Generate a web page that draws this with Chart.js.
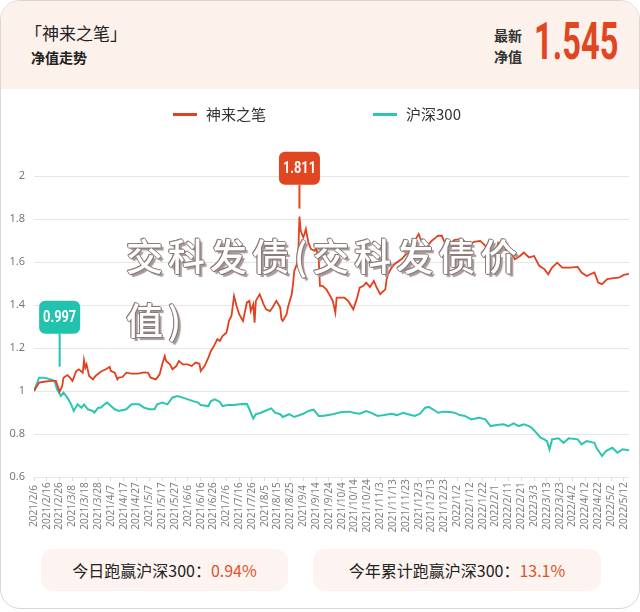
<!DOCTYPE html>
<html>
<head>
<meta charset="utf-8">
<script src="https://cdn.jsdelivr.net/npm/chart.js@4.4.0/dist/chart.umd.min.js"></script>
<style>
body { margin: 0; width: 640px; height: 612px; background: #fff; overflow: hidden;
  font-family: "Noto Sans CJK SC", "Noto Sans", sans-serif; }
#card { position: absolute; left: 0; top: 0; width: 638px; height: 607px; border: 1px solid #d8d8d8;
  border-radius: 20px; overflow: hidden; background: #fff; }
#head { position: absolute; left: 0; top: 0; width: 100%; height: 88px; background: #fdf1ec; }
#title { position: absolute; left: 24px; top: 19px; font-size: 17px; color: #222; }
#sub { position: absolute; left: 30px; top: 46px; font-size: 14px; font-weight: bold; color: #222; }
.small { position: absolute; left: 493px; font-size: 14px; font-weight: bold; color: #333; line-height: 16px; }
#latest { position: absolute; left: 533px; top: 13px; font-family: Roboto, sans-serif; font-weight: bold;
  font-size: 51px; color: #e0461f; transform: scaleX(0.64); transform-origin: left top; line-height: 56px; }
#wrap { position: absolute; left: 0; top: 95px; width: 640px; height: 450px; }
#legend { position: absolute; left: 0; top: 103px; width: 640px; height: 22px; }
.item { position: absolute; top: 0; font-size: 15px; color: #333; line-height: 20px; }
.item i { position: absolute; left: 0; top: 9px; width: 24px; height: 3px; }
.item span { position: absolute; left: 33px; white-space: nowrap; }
#mark { position: absolute; left: 125px; top: 222px; width: 420px; font-size: 37px; font-weight: 500;
  letter-spacing: 5px; line-height: 64px; color: #fff; pointer-events: none;
  text-shadow: 1px 0 #8c7c7c, -1px 0 #8c7c7c, 0 1px #8c7c7c, 0 -1px #8c7c7c, 1px 1px #8c7c7c,
    -1px -1px #8c7c7c, 3px 3px 1px #a89999; }
.box { position: absolute; top: 548px; height: 42px; background: #fdf3f0; border-radius: 12px;
  font-size: 16px; color: #222; text-align: center; line-height: 42px; }
.box b { font-weight: normal; color: #e0522a; }
</style>
</head>
<body>
<div id="card">
  <div id="head">
    <div id="title">「神来之笔」</div>
    <div id="sub">净值走势</div>
    <div class="small" style="top:26px">最新</div>
    <div class="small" style="top:47px">净值</div>
    <div id="latest"></div>
  </div>
  <div id="wrap"><canvas id="navChart"></canvas></div>
  <div id="legend"></div>
  <div id="mark">交科发债(交科发债价值)</div>
  <div class="box" style="left:40px;width:247px">今日跑赢沪深300：<b>0.94%</b></div>
  <div class="box" style="left:312px;width:288px">今年累计跑赢沪深300：<b>13.1%</b></div>
</div>
<script>
// x axis labels, one every 10 days from 2021/2/6
const tickLabels = ['2021/2/6', '2021/2/16', '2021/2/26', '2021/3/8', '2021/3/18', '2021/3/28',
  '2021/4/7', '2021/4/17', '2021/4/27', '2021/5/7', '2021/5/17', '2021/5/27', '2021/6/6',
  '2021/6/16', '2021/6/26', '2021/7/6', '2021/7/16', '2021/7/26', '2021/8/5', '2021/8/15',
  '2021/8/25', '2021/9/4', '2021/9/14', '2021/9/24', '2021/10/4', '2021/10/14', '2021/10/24',
  '2021/11/3', '2021/11/13', '2021/11/23', '2021/12/3', '2021/12/13', '2021/12/23', '2022/1/2',
  '2022/1/12', '2022/1/22', '2022/2/1', '2022/2/11', '2022/2/21', '2022/3/3', '2022/3/13',
  '2022/3/23', '2022/4/2', '2022/4/12', '2022/4/22', '2022/5/2', '2022/5/12'];
const labelStep = 10;
const lastDay = 464;

const seriesNames = ['神来之笔', '沪深300'];
const seriesColors = ['#e2401e', '#2cc5b3'];

// 神来之笔 net value (day offset from 2021/2/6)
const fundDays = [0, 4, 8, 13, 17, 18, 20, 22, 23, 26,
  28, 30, 33, 35, 38, 39, 40, 41, 43, 46,
  48, 51, 53, 56, 59, 60, 63, 65, 66, 69,
  72, 76, 81, 86, 89, 91, 95, 98, 100, 102,
  103, 106, 108, 111, 113, 116, 120, 123, 126, 129,
  130, 133, 136, 138, 141, 143, 145, 147, 150, 151,
  152, 154, 156, 158, 160, 163, 166, 168, 169, 171,
  172, 173, 176, 179, 181, 184, 186, 189, 192, 193,
  194, 197, 198, 201, 202, 203, 205, 206, 207, 208,
  210, 211, 212, 214, 216, 219, 220, 222, 223, 225,
  228, 231, 233, 235, 236, 238, 242, 245, 249, 252,
  254, 257, 259, 262, 265, 267, 270, 271, 274, 275,
  276, 279, 281, 287, 289, 292, 296, 300, 302, 308,
  310, 313, 315, 318, 322, 325, 328, 334, 339, 343,
  348, 352, 354, 357, 360, 362, 366, 371, 375, 377,
  379, 382, 386, 390, 394, 398, 401, 404, 408, 412,
  418, 424, 427, 431, 437, 440, 443, 447, 452, 456,
  460, 464];
const fundValues = [1.000, 1.039, 1.043, 1.047, 1.047, 1.031, 0.997, 1.023, 1.062, 1.074,
  1.062, 1.047, 1.093, 1.101, 1.085, 1.143, 1.108, 1.124, 1.070, 1.054,
  1.070, 1.085, 1.093, 1.101, 1.112, 1.093, 1.085, 1.054, 1.062, 1.065,
  1.085, 1.081, 1.081, 1.087, 1.085, 1.062, 1.054, 1.078, 1.124, 1.163,
  1.140, 1.124, 1.101, 1.116, 1.140, 1.124, 1.124, 1.116, 1.132, 1.127,
  1.093, 1.116, 1.155, 1.186, 1.217, 1.241, 1.233, 1.256, 1.271, 1.294,
  1.326, 1.349, 1.442, 1.395, 1.357, 1.326, 1.411, 1.419, 1.372, 1.404,
  1.318, 1.419, 1.450, 1.404, 1.380, 1.372, 1.388, 1.419, 1.388, 1.334,
  1.326, 1.357, 1.388, 1.450, 1.497, 1.559, 1.590, 1.621, 1.811, 1.745,
  1.714, 1.731, 1.753, 1.690, 1.660, 1.652, 1.667, 1.615, 1.489, 1.489,
  1.473, 1.442, 1.419, 1.364, 1.434, 1.434, 1.434, 1.419, 1.380, 1.433,
  1.481, 1.489, 1.504, 1.484, 1.512, 1.484, 1.450, 1.456, 1.473, 1.520,
  1.543, 1.574, 1.590, 1.615, 1.628, 1.647, 1.690, 1.730, 1.698, 1.683,
  1.698, 1.712, 1.722, 1.722, 1.667, 1.689, 1.703, 1.706, 1.675, 1.694,
  1.698, 1.675, 1.652, 1.661, 1.644, 1.689, 1.660, 1.652, 1.613, 1.620,
  1.628, 1.644, 1.621, 1.628, 1.582, 1.567, 1.543, 1.574, 1.597, 1.574,
  1.574, 1.577, 1.551, 1.535, 1.551, 1.504, 1.497, 1.520, 1.525, 1.527,
  1.540, 1.545];

// 沪深300, rebased to 1
const indexDays = [0, 4, 8, 13, 16, 18, 21, 23, 26, 29,
  31, 34, 37, 39, 42, 46, 47, 50, 52, 55,
  57, 60, 63, 66, 72, 76, 82, 86, 90, 94,
  96, 100, 104, 108, 112, 116, 120, 124, 128, 130,
  136, 138, 141, 145, 147, 151, 156, 160, 166, 168,
  171, 173, 177, 180, 185, 188, 192, 194, 199, 203,
  210, 214, 218, 222, 225, 233, 240, 246, 250, 254,
  259, 263, 268, 273, 279, 283, 288, 291, 297, 301,
  305, 308, 311, 315, 319, 324, 328, 332, 336, 341,
  347, 352, 356, 361, 366, 370, 374, 378, 382, 386,
  388, 392, 395, 398, 400, 402, 404, 409, 413, 417,
  424, 427, 431, 437, 439, 443, 446, 451, 455, 459,
  464];
const indexValues = [1.000, 1.062, 1.062, 1.054, 1.047, 1.008, 0.977, 0.992, 0.969, 0.938,
  0.907, 0.938, 0.922, 0.938, 0.915, 0.907, 0.899, 0.922, 0.922, 0.938,
  0.946, 0.930, 0.915, 0.907, 0.915, 0.938, 0.938, 0.922, 0.915, 0.915,
  0.938, 0.946, 0.938, 0.970, 0.977, 0.969, 0.961, 0.953, 0.946, 0.935,
  0.930, 0.953, 0.961, 0.949, 0.930, 0.935, 0.935, 0.938, 0.940, 0.915,
  0.872, 0.892, 0.899, 0.907, 0.919, 0.899, 0.892, 0.879, 0.892, 0.879,
  0.894, 0.907, 0.913, 0.884, 0.884, 0.892, 0.902, 0.904, 0.898, 0.894,
  0.907, 0.898, 0.884, 0.888, 0.894, 0.888, 0.899, 0.893, 0.884, 0.894,
  0.922, 0.926, 0.915, 0.899, 0.904, 0.902, 0.899, 0.888, 0.884, 0.868,
  0.876, 0.868, 0.837, 0.842, 0.845, 0.837, 0.849, 0.837, 0.845, 0.837,
  0.829, 0.804, 0.783, 0.775, 0.767, 0.729, 0.775, 0.780, 0.759, 0.780,
  0.775, 0.752, 0.767, 0.759, 0.732, 0.697, 0.721, 0.736, 0.713, 0.729,
  0.724];

document.getElementById('latest').textContent = fundValues[fundValues.length - 1].toFixed(3);

// legend
const legend = document.getElementById('legend');
const legendLeft = [172, 372];
seriesNames.forEach((name, i) => {
  const item = document.createElement('div');
  item.className = 'item';
  item.style.left = legendLeft[i] + 'px';
  item.innerHTML = '<i style="background:' + seriesColors[i] + '"></i><span>' + name + '</span>';
  legend.appendChild(item);
});

function toPoints(days, values) {
  return days.map((d, i) => ({ x: d, y: values[i] }));
}

// max / min pins on the fund line
let maxI = 0, minI = 0;
fundValues.forEach((v, i) => {
  if (v > fundValues[maxI]) maxI = i;
  if (v < fundValues[minI]) minI = i;
});
const pins = [
  { day: fundDays[maxI], value: fundValues[maxI], color: '#e0461f', lift: 32, gap: 8 },
  { day: fundDays[minI], value: fundValues[minI], color: '#22c3ae', lift: 58, gap: 25 }
];

const pinPlugin = {
  id: 'pins',
  afterDatasetsDraw(chart) {
    const ctx = chart.ctx;
    const xs = chart.scales.x, ys = chart.scales.y;
    pins.forEach(p => {
      const px = xs.getPixelForValue(p.day);
      const py = ys.getPixelForValue(p.value);
      const bottom = py - p.lift;
      const w = 41, h = 33;
      ctx.save();
      ctx.strokeStyle = p.color;
      ctx.lineWidth = 2;
      ctx.beginPath();
      ctx.moveTo(px, bottom);
      ctx.lineTo(px, py - p.gap);
      ctx.stroke();
      ctx.fillStyle = p.color;
      ctx.beginPath();
      ctx.roundRect(px - w / 2, bottom - h, w, h, 6);
      ctx.fill();
      ctx.translate(px, bottom - h / 2 + 1);
      ctx.scale(0.8, 1);
      ctx.fillStyle = '#fff';
      ctx.font = 'bold 16px Roboto';
      ctx.textAlign = 'center';
      ctx.textBaseline = 'middle';
      ctx.fillText(p.value.toFixed(3), 0, 0);
      ctx.restore();
    });
  }
};

// vertical date labels, centred under each tick
const dateLabelPlugin = {
  id: 'dateLabels',
  afterDraw(chart) {
    const ctx = chart.ctx;
    const xs = chart.scales.x;
    ctx.save();
    ctx.fillStyle = '#808080';
    ctx.font = '10px "Noto Sans", sans-serif';
    ctx.textAlign = 'center';
    ctx.textBaseline = 'middle';
    tickLabels.forEach((t, i) => {
      const x = xs.getPixelForValue(i * labelStep);
      ctx.save();
      ctx.translate(x, chart.chartArea.bottom + 29);
      ctx.rotate(-Math.PI / 2);
      ctx.fillText(t, 0, 0);
      ctx.restore();
    });
    ctx.restore();
  }
};

const ctx = document.getElementById('navChart').getContext('2d');
const navChart = new Chart(ctx, {
  type: 'line',
  data: {
    datasets: [{
      label: seriesNames[0],
      data: toPoints(fundDays, fundValues),
      borderColor: seriesColors[0],
      backgroundColor: seriesColors[0],
      borderWidth: 1.8,
      pointRadius: 0,
      order: 1
    }, {
      label: seriesNames[1],
      data: toPoints(indexDays, indexValues),
      borderColor: seriesColors[1],
      backgroundColor: seriesColors[1],
      borderWidth: 2,
      pointRadius: 0,
      order: 2
    }]
  },
  options: {
    responsive: true,
    maintainAspectRatio: false,
    animation: false,
    layout: { padding: { top: 80, right: 12, left: 0, bottom: 0 } },
    plugins: {
      legend: { display: false },
      tooltip: { enabled: false }
    },
    scales: {
      x: {
        type: 'linear',
        min: 0,
        max: lastDay,
        ticks: { stepSize: labelStep, includeBounds: false, display: false },
        grid: { drawOnChartArea: false, tickLength: 4, color: '#dcdcdc' },
        border: { display: false },
        afterFit: scale => { scale.height = 69; }
      },
      y: {
        min: 0.6,
        max: 2,
        ticks: {
          stepSize: 0.2,
          padding: 9,
          color: '#777',
          font: { size: 11, family: '"Noto Sans", sans-serif' },
          callback: v => String(+v.toFixed(1))
        },
        grid: { color: '#e6e6e6', drawTicks: false },
        border: { display: false },
        afterFit: scale => { scale.width = 33; }
      }
    }
  },
  plugins: [pinPlugin, dateLabelPlugin]
});
</script>
</body>
</html>
